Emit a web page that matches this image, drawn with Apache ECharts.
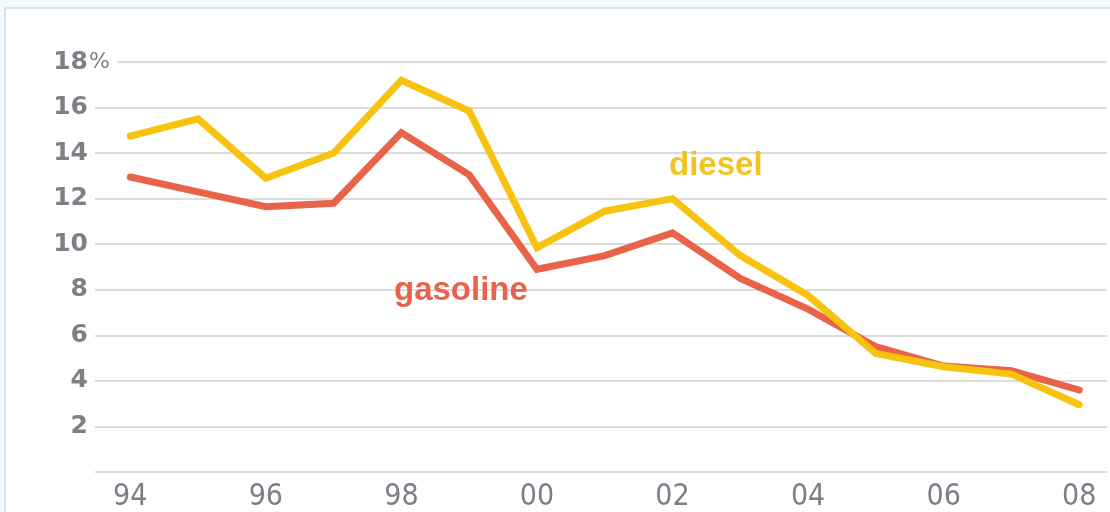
<!DOCTYPE html>
<html>
<head>
<meta charset="utf-8">
<script src="https://cdn.jsdelivr.net/npm/echarts@6/dist/echarts.min.js"></script>
<style>
  html, body { margin: 0; padding: 0; background: #f4f9fc; }
  #frame { position: absolute; left: 4px; top: 7px; width: 1110px; height: 512px;
           background: #fff; border-left: 2px solid #d3e7f3; border-top: 2px solid #d3e7f3; }
  #chart { position: absolute; left: 0; top: 0; width: 1110px; height: 512px; }
</style>
</head>
<body>
<div id="frame"></div>
<div id="chart"></div>
<script>
// years on the x axis
var years = [1994, 1995, 1996, 1997, 1998, 1999, 2000, 2001, 2002, 2003, 2004, 2005, 2006, 2007, 2008];
// shown tick labels
var yearTicks = [1994, 1996, 1998, 2000, 2002, 2004, 2006, 2008];
// percent values
var gasoline = [12.95, 12.3, 11.65, 11.8, 14.9, 13.05, 8.9, 9.5, 10.5, 8.5, 7.15, 5.5, 4.65, 4.45, 3.6];
var diesel = [14.75, 15.5, 12.9, 14.0, 17.2, 15.85, 9.85, 11.45, 12.0, 9.5, 7.75, 5.2, 4.62, 4.3, 2.95];

var red = '#e9624a';
var yellow = '#f7c30e';
var grey = '#7f7f88';

function pairs(vals) {
    return years.map(function (y, i) { return [y, vals[i]]; });
}

var option = {
    backgroundColor: 'transparent',
    animation: false,
    grid: { left: 95, right: 3, top: 62, bottom: 37.5 },
    xAxis: {
        type: 'value',
        min: 1993.48,
        max: 2008.41,
        axisLine: { show: false },
        axisTick: { show: false },
        splitLine: { show: false },
        axisLabel: {
            customValues: yearTicks,
            formatter: function (v) { return String(v).slice(2); },
            color: '#7c7f88',
            fontSize: 30,
            fontFamily: '"DejaVu Sans Condensed", sans-serif',
            margin: 10
        }
    },
    yAxis: {
        type: 'value',
        min: 0,
        max: 18,
        interval: 2,
        axisLine: { show: false },
        axisTick: { show: false },
        splitLine: { lineStyle: { color: '#dcdcdc', width: 2 } },
        axisLabel: {
            formatter: function (v) { return v === 0 ? '' : String(v); },
            color: grey,
            fontSize: 25,
            fontWeight: 'bold',
            fontFamily: '"DejaVu Sans", sans-serif',
            margin: 7
        }
    },
    graphic: [
        { type: 'rect', left: 90, top: 58, shape: { width: 27, height: 8 }, style: { fill: '#fff' }, z: 10 },
        { type: 'text', x: 89, y: 62, z: 11,
          style: { text: '%', fill: grey, fontSize: 22, fontFamily: '"DejaVu Sans", sans-serif',
                   verticalAlign: 'middle', align: 'left' } },
        { type: 'text', x: 669, y: 166, z: 11,
          style: { text: 'diesel', fill: '#f3c323', fontSize: 33, fontWeight: 'bold',
                   fontFamily: '"Liberation Sans", sans-serif', verticalAlign: 'middle', align: 'left' } },
        { type: 'text', x: 394, y: 291, z: 11,
          style: { text: 'gasoline', fill: red, fontSize: 33, fontWeight: 'bold',
                   fontFamily: '"Liberation Sans", sans-serif', verticalAlign: 'middle', align: 'left' } }
    ],
    series: [{
        name: 'gasoline',
        type: 'line',
        data: pairs(gasoline),
        symbol: 'none',
        lineStyle: { color: red, width: 7, cap: 'round', join: 'miter' }
    }, {
        name: 'diesel',
        type: 'line',
        data: pairs(diesel),
        symbol: 'none',
        lineStyle: { color: yellow, width: 7, cap: 'round', join: 'miter' }
    }]
};

var chart = echarts.init(document.getElementById('chart'));
chart.setOption(option);
</script>
</body>
</html>
